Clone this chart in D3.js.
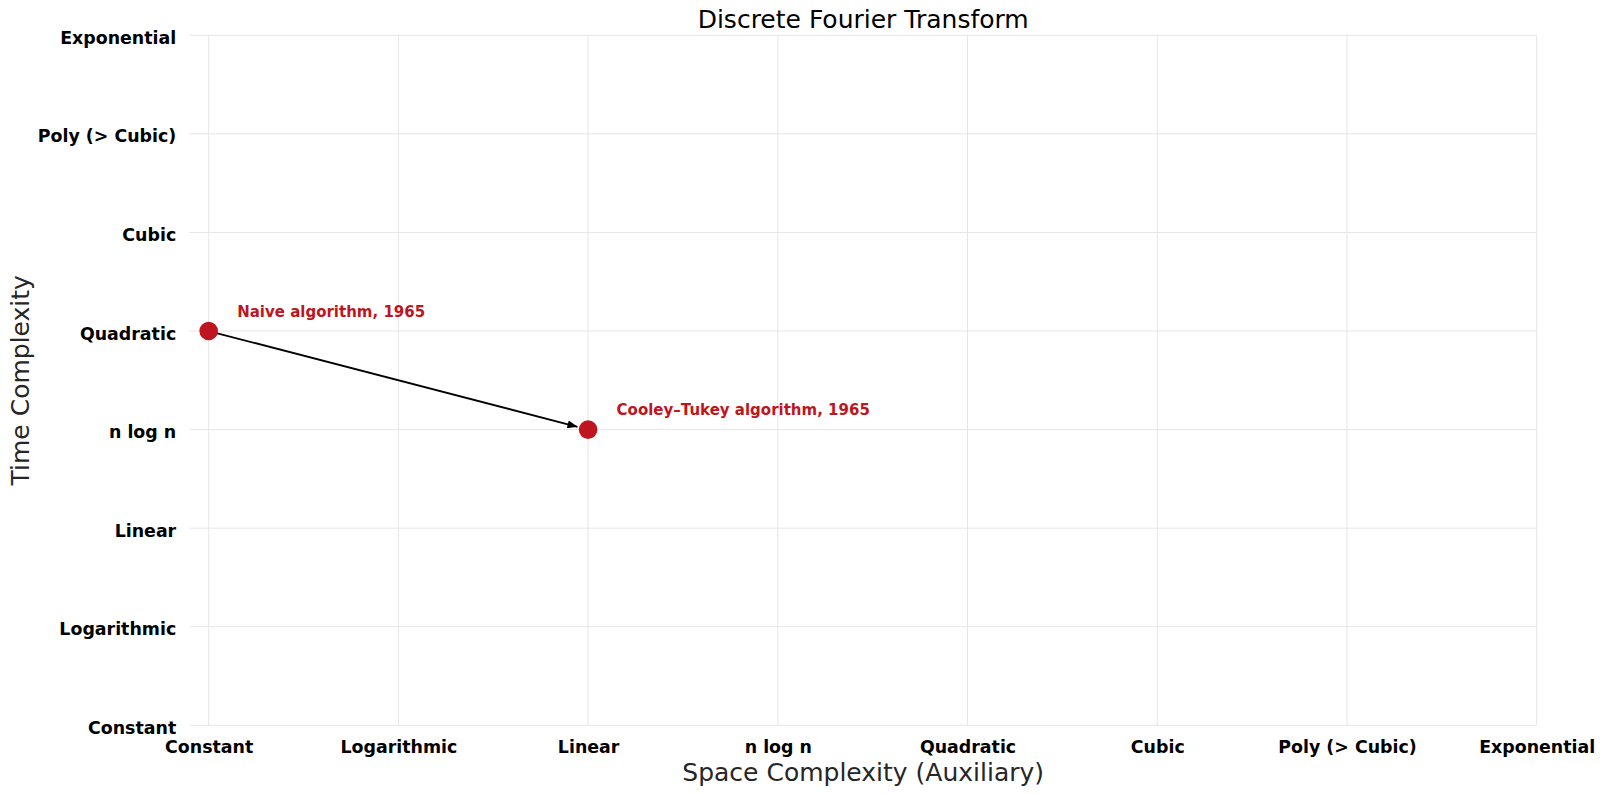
<!DOCTYPE html>
<html>
<head>
<meta charset="utf-8">
<script src="https://cdn.jsdelivr.net/npm/d3@7"></script>
<style>
  body { margin: 0; background: #fff; }
  text { font-family: "DejaVu Sans", sans-serif; }
</style>
</head>
<body>
<div class="canvas"></div>
<script>
// complexity classes, used for both axes
const complexityLabels = ["Constant", "Logarithmic", "Linear", "n log n", "Quadratic", "Cubic", "Poly (> Cubic)", "Exponential"]

// algorithms and where they sit
const algorithms = ["Naive algorithm, 1965", "Cooley–Tukey algorithm, 1965"]
const spaceComplexity = ["Constant", "Linear"]
const timeComplexity = ["Quadratic", "n log n"]

const red = "#bf1520"

const svg = d3.select(".canvas").append("svg")
    .attr("width", 1604)
    .attr("height", 794)

const margin = { top: 35.3, right: 67.3, bottom: 68.7, left: 189.7 }
const graphWidth = 1604 - margin.left - margin.right
const graphHeight = 794 - margin.top - margin.bottom

const graph = svg.append("g")
    .attr("transform", `translate(${margin.left}, ${margin.top})`)

const idx = name => complexityLabels.indexOf(name)

const x = d3.scaleLinear()
    .domain([-0.1, 7])
    .range([0, graphWidth])
const y = d3.scaleLinear()
    .domain([0, 7])
    .range([graphHeight, 0])

const ticks = d3.range(complexityLabels.length)

// grid
graph.append("g").selectAll("line")
    .data(ticks)
    .enter().append("line")
    .attr("x1", d => x(d)).attr("x2", d => x(d))
    .attr("y1", 0).attr("y2", graphHeight)
    .attr("stroke", "#e6e6e6")
graph.append("g").selectAll("line")
    .data(ticks)
    .enter().append("line")
    .attr("x1", 0).attr("x2", graphWidth)
    .attr("y1", d => y(d)).attr("y2", d => y(d))
    .attr("stroke", "#e6e6e6")

// axes
const xAxis = d3.axisBottom(x)
    .tickValues(ticks)
    .tickFormat(d => complexityLabels[d])
    .tickSize(0)
    .tickPadding(15)
const yAxis = d3.axisLeft(y)
    .tickValues(ticks)
    .tickFormat(d => complexityLabels[d])
    .tickSize(0)
    .tickPadding(13.5)

const xAxisGroup = graph.append("g")
    .attr("transform", `translate(0, ${graphHeight})`)
    .call(xAxis)
const yAxisGroup = graph.append("g").call(yAxis)

;[xAxisGroup, yAxisGroup].forEach(g => {
    g.select(".domain").remove()
    g.selectAll("text")
        .attr("font-family", "DejaVu Sans")
        .attr("font-size", 17.4)
        .attr("font-weight", "bold")
        .attr("fill", "#000")
})
yAxisGroup.selectAll("text").attr("dy", "0.46em")

// arrow head
svg.append("defs").append("marker")
    .attr("id", "head")
    .attr("viewBox", "0 0 10 8")
    .attr("refX", 10).attr("refY", 4)
    .attr("markerWidth", 10).attr("markerHeight", 8)
    .attr("markerUnits", "userSpaceOnUse")
    .attr("orient", "auto")
    .append("path")
    .attr("d", "M0,0 L10,4 L0,8 Z")
    .attr("fill", "#000")

const pts = algorithms.map((name, i) => ({
    name,
    px: x(idx(spaceComplexity[i])),
    py: y(idx(timeComplexity[i]))
}))

// arrow from first to second
const a = pts[0], b = pts[1]
const len = Math.hypot(b.px - a.px, b.py - a.py)
const ux = (b.px - a.px) / len, uy = (b.py - a.py) / len
graph.append("line")
    .attr("x1", a.px + ux * 8).attr("y1", a.py + uy * 8)
    .attr("x2", b.px - ux * 11).attr("y2", b.py - uy * 11)
    .attr("stroke", "#000")
    .attr("stroke-width", 1.8)
    .attr("marker-end", "url(#head)")

// points
graph.selectAll("circle")
    .data(pts)
    .enter().append("circle")
    .attr("cx", d => d.px)
    .attr("cy", d => d.py)
    .attr("r", 9.3)
    .attr("fill", red)

graph.selectAll(".label")
    .data(pts)
    .enter().append("text")
    .attr("class", "label")
    .attr("x", d => d.px + 28.5)
    .attr("y", d => d.py - 14.3)
    .attr("font-size", 15)
    .attr("font-weight", "bold")
    .attr("fill", red)
    .text(d => d.name)

// titles
svg.append("text")
    .attr("x", margin.left + graphWidth / 2)
    .attr("y", 28.3)
    .attr("text-anchor", "middle")
    .attr("font-size", 25)
    .attr("fill", "#000")
    .text("Discrete Fourier Transform")

svg.append("text")
    .attr("x", margin.left + graphWidth / 2)
    .attr("y", 781)
    .attr("text-anchor", "middle")
    .attr("font-size", 25)
    .attr("fill", "#262626")
    .text("Space Complexity (Auxiliary)")

svg.append("text")
    .attr("transform", `translate(29, ${margin.top + graphHeight / 2}) rotate(-90)`)
    .attr("text-anchor", "middle")
    .attr("font-size", 25)
    .attr("fill", "#262626")
    .text("Time Complexity")
</script>
</body>
</html>
